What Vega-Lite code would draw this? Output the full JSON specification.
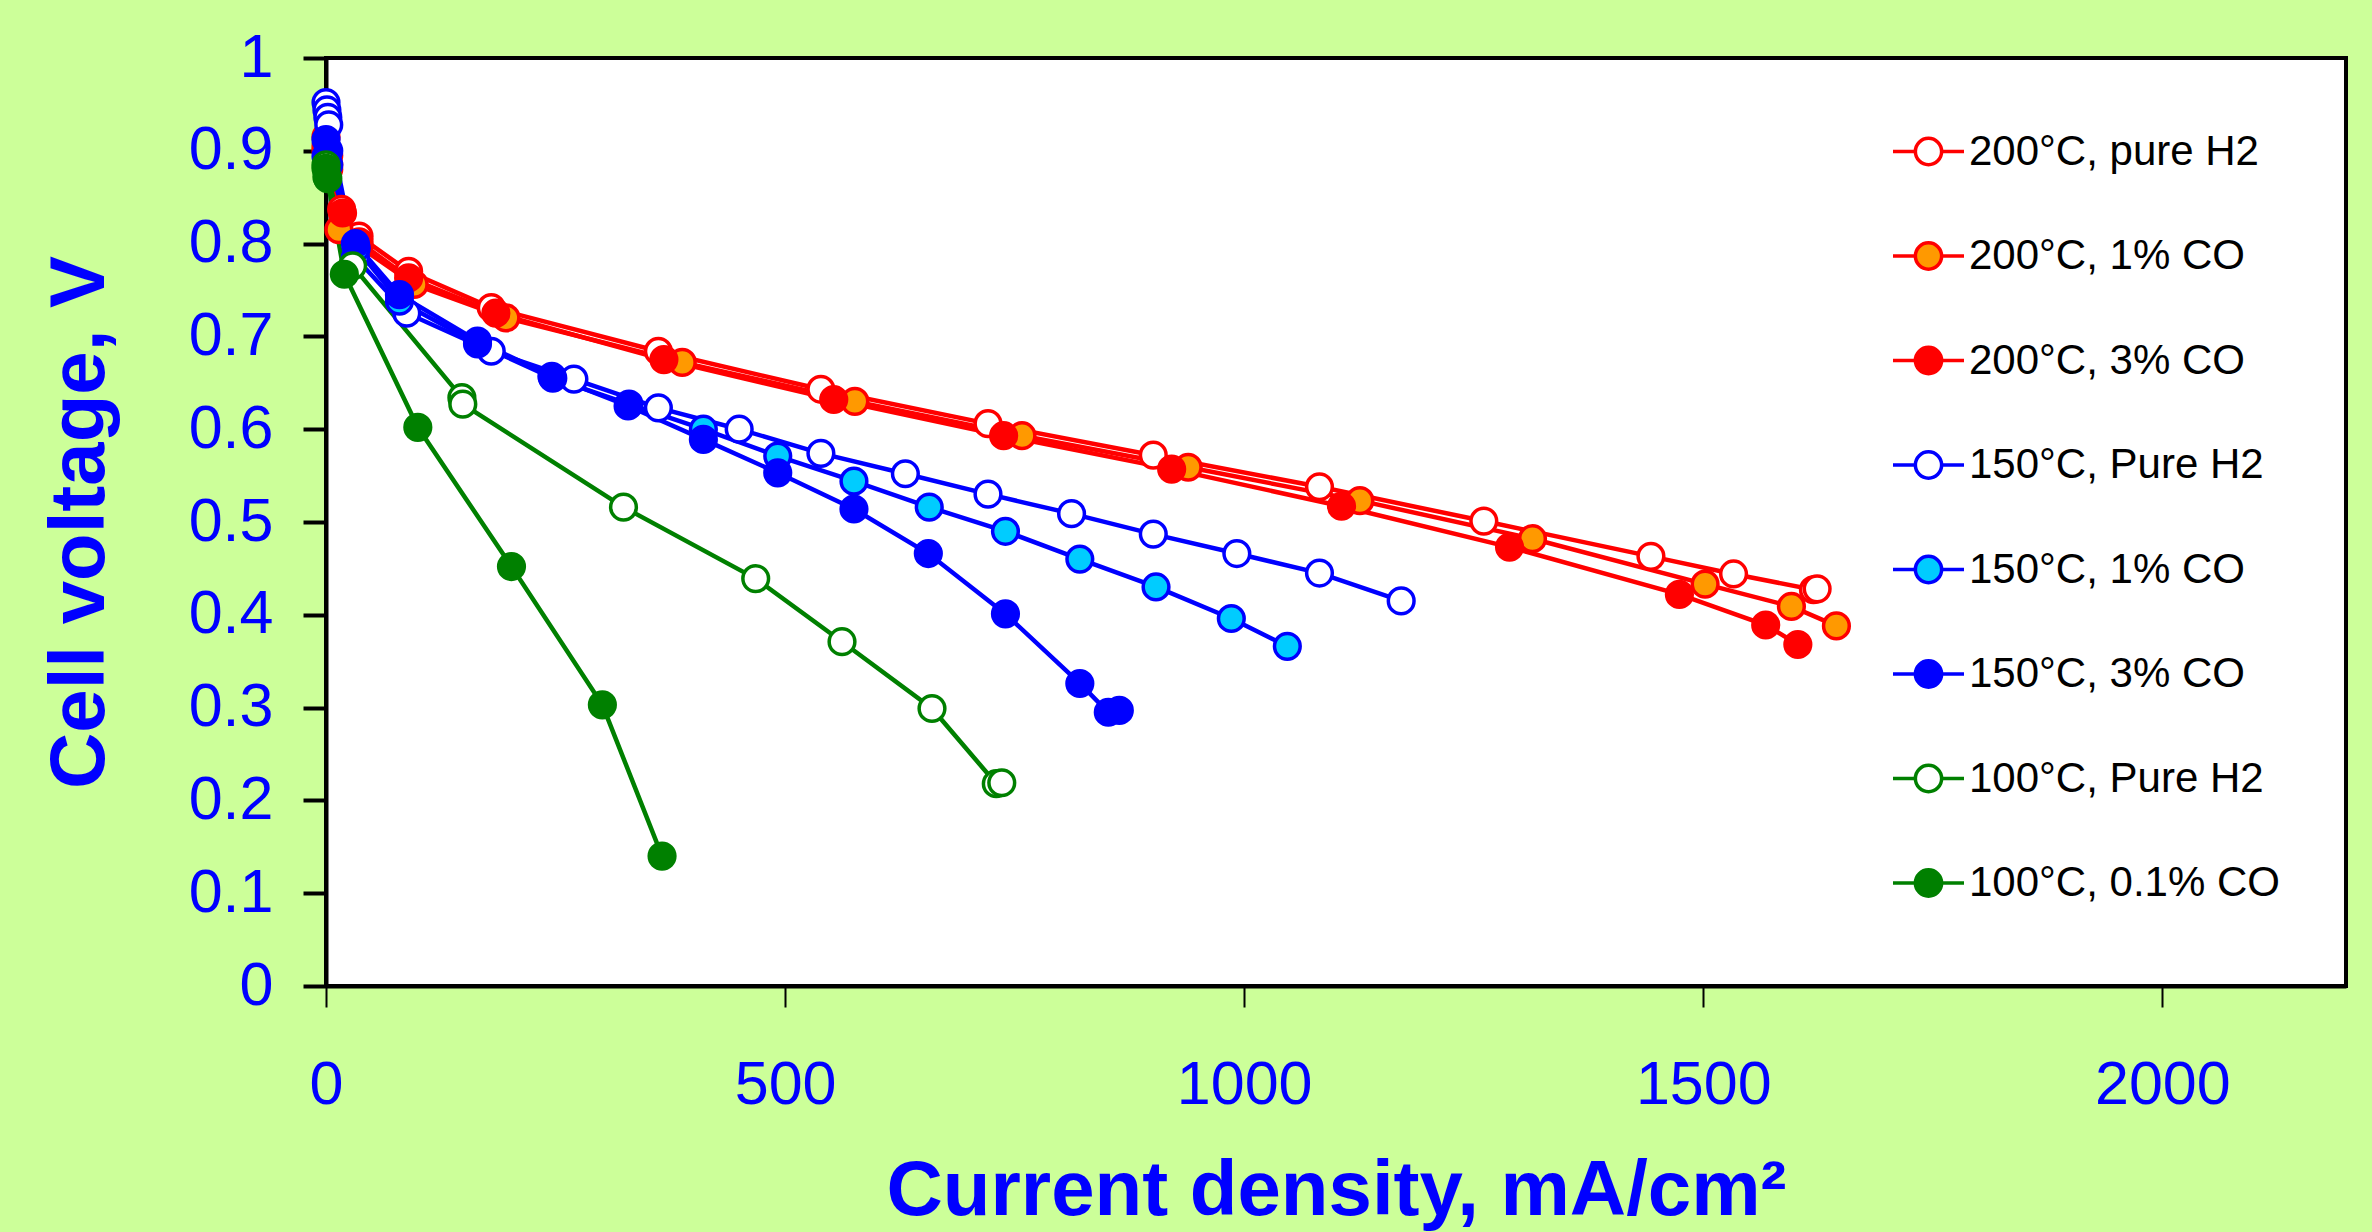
{
  "$schema": "https://vega.github.io/schema/vega-lite/v6.json",
  "width": 2020,
  "height": 928,
  "autosize": {"type": "none"},
  "padding": {"left": 326, "top": 58, "right": 26, "bottom": 248},
  "background": "#CCFF99",
  "config": {
    "font": "Liberation Sans",
    "view": {"fill": "white", "stroke": "black", "strokeWidth": 4}
  },
  "data": {"values": [
    {"series": "200°C, pure H2", "current": 0, "voltage": 0.915},
    {"series": "200°C, pure H2", "current": 3, "voltage": 0.895},
    {"series": "200°C, pure H2", "current": 17, "voltage": 0.837},
    {"series": "200°C, pure H2", "current": 36, "voltage": 0.808},
    {"series": "200°C, pure H2", "current": 90, "voltage": 0.770},
    {"series": "200°C, pure H2", "current": 180, "voltage": 0.731},
    {"series": "200°C, pure H2", "current": 362, "voltage": 0.684},
    {"series": "200°C, pure H2", "current": 539, "voltage": 0.643},
    {"series": "200°C, pure H2", "current": 721, "voltage": 0.606},
    {"series": "200°C, pure H2", "current": 901, "voltage": 0.572},
    {"series": "200°C, pure H2", "current": 1082, "voltage": 0.538},
    {"series": "200°C, pure H2", "current": 1261, "voltage": 0.501},
    {"series": "200°C, pure H2", "current": 1443, "voltage": 0.463},
    {"series": "200°C, pure H2", "current": 1533, "voltage": 0.444},
    {"series": "200°C, pure H2", "current": 1620, "voltage": 0.427},
    {"series": "200°C, pure H2", "current": 1624, "voltage": 0.428},
    {"series": "200°C, 1% CO", "current": 0, "voltage": 0.905},
    {"series": "200°C, 1% CO", "current": 3, "voltage": 0.885},
    {"series": "200°C, 1% CO", "current": 14, "voltage": 0.815},
    {"series": "200°C, 1% CO", "current": 36, "voltage": 0.797},
    {"series": "200°C, 1% CO", "current": 96, "voltage": 0.756},
    {"series": "200°C, 1% CO", "current": 196, "voltage": 0.720},
    {"series": "200°C, 1% CO", "current": 388, "voltage": 0.672},
    {"series": "200°C, 1% CO", "current": 576, "voltage": 0.630},
    {"series": "200°C, 1% CO", "current": 758, "voltage": 0.593},
    {"series": "200°C, 1% CO", "current": 939, "voltage": 0.559},
    {"series": "200°C, 1% CO", "current": 1126, "voltage": 0.523},
    {"series": "200°C, 1% CO", "current": 1314, "voltage": 0.482},
    {"series": "200°C, 1% CO", "current": 1502, "voltage": 0.433},
    {"series": "200°C, 1% CO", "current": 1596, "voltage": 0.409},
    {"series": "200°C, 1% CO", "current": 1645, "voltage": 0.388},
    {"series": "200°C, 3% CO", "current": 0, "voltage": 0.900},
    {"series": "200°C, 3% CO", "current": 3, "voltage": 0.880},
    {"series": "200°C, 3% CO", "current": 18, "voltage": 0.833},
    {"series": "200°C, 3% CO", "current": 36, "voltage": 0.802},
    {"series": "200°C, 3% CO", "current": 90, "voltage": 0.763},
    {"series": "200°C, 3% CO", "current": 185, "voltage": 0.725},
    {"series": "200°C, 3% CO", "current": 368, "voltage": 0.675},
    {"series": "200°C, 3% CO", "current": 553, "voltage": 0.632},
    {"series": "200°C, 3% CO", "current": 738, "voltage": 0.593},
    {"series": "200°C, 3% CO", "current": 921, "voltage": 0.557},
    {"series": "200°C, 3% CO", "current": 1106, "voltage": 0.517},
    {"series": "200°C, 3% CO", "current": 1289, "voltage": 0.473},
    {"series": "200°C, 3% CO", "current": 1474, "voltage": 0.422},
    {"series": "200°C, 3% CO", "current": 1568, "voltage": 0.389},
    {"series": "200°C, 3% CO", "current": 1603, "voltage": 0.368},
    {"series": "150°C, Pure H2", "current": 0, "voltage": 0.952},
    {"series": "150°C, Pure H2", "current": 1, "voltage": 0.944},
    {"series": "150°C, Pure H2", "current": 2, "voltage": 0.936},
    {"series": "150°C, Pure H2", "current": 3, "voltage": 0.928},
    {"series": "150°C, Pure H2", "current": 32, "voltage": 0.785},
    {"series": "150°C, Pure H2", "current": 88, "voltage": 0.725},
    {"series": "150°C, Pure H2", "current": 180, "voltage": 0.684},
    {"series": "150°C, Pure H2", "current": 270, "voltage": 0.654},
    {"series": "150°C, Pure H2", "current": 362, "voltage": 0.623},
    {"series": "150°C, Pure H2", "current": 450, "voltage": 0.600},
    {"series": "150°C, Pure H2", "current": 539, "voltage": 0.574},
    {"series": "150°C, Pure H2", "current": 631, "voltage": 0.552},
    {"series": "150°C, Pure H2", "current": 721, "voltage": 0.530},
    {"series": "150°C, Pure H2", "current": 812, "voltage": 0.509},
    {"series": "150°C, Pure H2", "current": 901, "voltage": 0.487},
    {"series": "150°C, Pure H2", "current": 992, "voltage": 0.466},
    {"series": "150°C, Pure H2", "current": 1082, "voltage": 0.445},
    {"series": "150°C, Pure H2", "current": 1171, "voltage": 0.415},
    {"series": "150°C, 1% CO", "current": 0, "voltage": 0.894},
    {"series": "150°C, 1% CO", "current": 3, "voltage": 0.885},
    {"series": "150°C, 1% CO", "current": 33, "voltage": 0.795},
    {"series": "150°C, 1% CO", "current": 80, "voltage": 0.738},
    {"series": "150°C, 1% CO", "current": 165, "voltage": 0.692},
    {"series": "150°C, 1% CO", "current": 247, "voltage": 0.655},
    {"series": "150°C, 1% CO", "current": 330, "voltage": 0.627},
    {"series": "150°C, 1% CO", "current": 411, "voltage": 0.600},
    {"series": "150°C, 1% CO", "current": 492, "voltage": 0.571},
    {"series": "150°C, 1% CO", "current": 575, "voltage": 0.544},
    {"series": "150°C, 1% CO", "current": 657, "voltage": 0.516},
    {"series": "150°C, 1% CO", "current": 740, "voltage": 0.490},
    {"series": "150°C, 1% CO", "current": 821, "voltage": 0.460},
    {"series": "150°C, 1% CO", "current": 904, "voltage": 0.430},
    {"series": "150°C, 1% CO", "current": 986, "voltage": 0.396},
    {"series": "150°C, 1% CO", "current": 1047, "voltage": 0.366},
    {"series": "150°C, 3% CO", "current": 0, "voltage": 0.912},
    {"series": "150°C, 3% CO", "current": 3, "voltage": 0.900},
    {"series": "150°C, 3% CO", "current": 32, "voltage": 0.800},
    {"series": "150°C, 3% CO", "current": 80, "voltage": 0.745},
    {"series": "150°C, 3% CO", "current": 165, "voltage": 0.695},
    {"series": "150°C, 3% CO", "current": 246, "voltage": 0.657},
    {"series": "150°C, 3% CO", "current": 329, "voltage": 0.625},
    {"series": "150°C, 3% CO", "current": 411, "voltage": 0.589},
    {"series": "150°C, 3% CO", "current": 492, "voltage": 0.553},
    {"series": "150°C, 3% CO", "current": 575, "voltage": 0.514},
    {"series": "150°C, 3% CO", "current": 656, "voltage": 0.466},
    {"series": "150°C, 3% CO", "current": 740, "voltage": 0.401},
    {"series": "150°C, 3% CO", "current": 821, "voltage": 0.326},
    {"series": "150°C, 3% CO", "current": 852, "voltage": 0.295},
    {"series": "150°C, 3% CO", "current": 864, "voltage": 0.297},
    {"series": "100°C, Pure H2", "current": 0, "voltage": 0.885},
    {"series": "100°C, Pure H2", "current": 2, "voltage": 0.870},
    {"series": "100°C, Pure H2", "current": 29, "voltage": 0.776},
    {"series": "100°C, Pure H2", "current": 148, "voltage": 0.634},
    {"series": "100°C, Pure H2", "current": 149, "voltage": 0.627},
    {"series": "100°C, Pure H2", "current": 324, "voltage": 0.516},
    {"series": "100°C, Pure H2", "current": 468, "voltage": 0.439},
    {"series": "100°C, Pure H2", "current": 562, "voltage": 0.371},
    {"series": "100°C, Pure H2", "current": 660, "voltage": 0.299},
    {"series": "100°C, Pure H2", "current": 730, "voltage": 0.218},
    {"series": "100°C, Pure H2", "current": 736, "voltage": 0.219},
    {"series": "100°C, 0.1% CO", "current": 0, "voltage": 0.881},
    {"series": "100°C, 0.1% CO", "current": 1, "voltage": 0.872},
    {"series": "100°C, 0.1% CO", "current": 20, "voltage": 0.767},
    {"series": "100°C, 0.1% CO", "current": 100, "voltage": 0.602},
    {"series": "100°C, 0.1% CO", "current": 202, "voltage": 0.452},
    {"series": "100°C, 0.1% CO", "current": 301, "voltage": 0.303},
    {"series": "100°C, 0.1% CO", "current": 366, "voltage": 0.140}
  ]},
  "encoding": {
    "x": {
      "field": "current", "type": "quantitative",
      "scale": {"domain": [0, 2200], "nice": false, "zero": false},
      "axis": {
        "values": [0, 500, 1000, 1500, 2000], "format": "d",
        "title": "Current density, mA/cm²",
        "grid": false,
        "labelFont": "Liberation Sans", "labelFontSize": 61, "labelColor": "#0000FF",
        "labelFlush": false, "labelBaseline": "alphabetic", "labelPadding": 96,
        "tickSize": 21, "tickWidth": 2, "tickColor": "black",
        "domainColor": "black", "domainWidth": 4,
        "titleFont": "Liberation Sans", "titleFontSize": 78, "titleFontWeight": "bold",
        "titleColor": "#0000FF", "titleBaseline": "alphabetic", "titleY": 228
      }
    },
    "y": {
      "field": "voltage", "type": "quantitative",
      "scale": {"domain": [0, 1], "nice": false, "zero": false},
      "axis": {
        "values": [0, 0.1, 0.2, 0.3, 0.4, 0.5, 0.6, 0.7, 0.8, 0.9, 1], "format": "~g",
        "title": "Cell voltage, V",
        "grid": false,
        "labelFont": "Liberation Sans", "labelFontSize": 61, "labelColor": "#0000FF",
        "labelFlush": false, "labelPadding": 30,
        "tickSize": 23, "tickWidth": 4, "tickColor": "black",
        "domainColor": "black", "domainWidth": 4,
        "titleFont": "Liberation Sans", "titleFontSize": 78, "titleFontWeight": "bold",
        "titleColor": "#0000FF", "titleBaseline": "alphabetic", "titleAngle": 270, "titleX": -223
      }
    },
    "stroke": {
      "field": "series", "type": "nominal",
      "scale": {
        "domain": ["200°C, pure H2", "200°C, 1% CO", "200°C, 3% CO", "150°C, Pure H2", "150°C, 1% CO", "150°C, 3% CO", "100°C, Pure H2", "100°C, 0.1% CO"],
        "range": ["#FF0000", "#FF0000", "#FF0000", "#0000FF", "#0000FF", "#0000FF", "#008000", "#008000"]
      },
      "legend": {
        "orient": "none", "legendX": 1565, "legendY": 56, "title": null, "padding": 0,
        "symbolType": "M-1,0H-0.37M0.37,0H1M0.37,0A0.37,0.37,0,1,1,-0.37,0A0.37,0.37,0,1,1,0.37,0Z",
        "symbolSize": 5041, "symbolStrokeWidth": 3.5, "symbolOpacity": 1,
        "labelFont": "Liberation Sans", "labelFontSize": 42, "labelColor": "black",
        "labelLimit": 0, "labelOffset": 3, "rowPadding": 45.5
      }
    }
  },
  "layer": [
    {
      "mark": {"type": "line", "strokeWidth": 4.5},
      "encoding": {
        "strokeWidth": {"condition": {"test": "indexof(datum.series, '150') == 0", "value": 6}, "value": 4.5}
      }
    },
    {
      "mark": {"type": "point", "shape": "circle", "size": 660, "strokeWidth": 3.5, "opacity": 1},
      "encoding": {
        "fill": {
          "field": "series", "type": "nominal",
          "scale": {
            "domain": ["200°C, pure H2", "200°C, 1% CO", "200°C, 3% CO", "150°C, Pure H2", "150°C, 1% CO", "150°C, 3% CO", "100°C, Pure H2", "100°C, 0.1% CO"],
            "range": ["#FFFFFF", "#FF9900", "#FF0000", "#FFFFFF", "#00CCFF", "#0000FF", "#FFFFFF", "#008000"]
          },
          "legend": {
            "orient": "none", "legendX": 1565, "legendY": 56, "title": null, "padding": 0,
            "symbolType": "M-1,0H-0.37M0.37,0H1M0.37,0A0.37,0.37,0,1,1,-0.37,0A0.37,0.37,0,1,1,0.37,0Z",
            "symbolSize": 5041, "symbolStrokeWidth": 3.5, "symbolOpacity": 1,
            "labelFont": "Liberation Sans", "labelFontSize": 42, "labelColor": "black",
            "labelLimit": 0, "labelOffset": 3, "rowPadding": 45.5
          }
        }
      }
    }
  ]
}
